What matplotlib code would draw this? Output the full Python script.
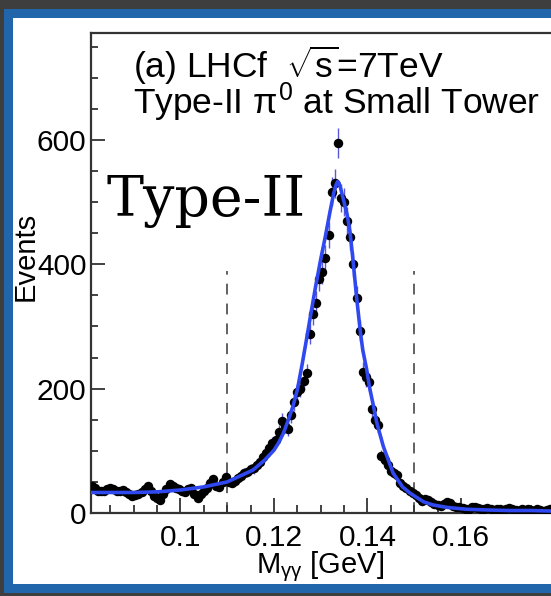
import matplotlib
matplotlib.use("Agg")
import matplotlib.pyplot as plt
from matplotlib.patches import Rectangle
import numpy as np

# --- data -----------------------------------------------------------------
# histogram: 150 bins of M_gg between 0.08 and 0.18 GeV
bin_lo, bin_hi, n_bins = 0.08, 0.18, 150
counts = [
    40, 44, 40, 36, 35, 36, 38, 40, 38, 35,
    36, 37, 33, 30, 28, 29, 30, 33, 38, 44,
    36, 28, 24, 21, 30, 38, 46, 44, 40, 38,
    36, 34, 38, 40, 30, 24, 30, 36, 40, 48,
    54, 44, 42, 50, 58, 50, 48, 52, 56, 60,
    64, 66, 70, 72, 78, 82, 90, 96, 104, 112,
    118, 130, 148, 140, 135, 158, 178, 194, 200, 212,
    225, 288, 320, 338, 376, 388, 410, 447, 517, 530,
    595, 506, 500, 470, 444, 400, 346, 293, 227, 218,
    210, 168, 150, 141, 92, 85, 77, 68, 64, 61,
    48, 43, 41, 36, 32, 29, 24, 20, 22, 21,
    18, 14, 13, 12, 15, 17, 16, 12, 10, 9,
    8, 7, 6, 9, 10, 8, 7, 6, 8, 7,
    5, 6, 7, 5, 6, 8, 6, 5, 4, 6,
    5, 7, 5, 4, 6, 5, 4, 5, 6, 4,
]

# fitted curve
fit_x = [0.0805, 0.085, 0.090, 0.095, 0.100, 0.105, 0.110, 0.1155, 0.118,
         0.120, 0.121, 0.122, 0.123, 0.124, 0.125, 0.126, 0.127, 0.128,
         0.129, 0.130, 0.131, 0.132, 0.1328, 0.1333, 0.1336, 0.1339,
         0.1342, 0.135, 0.1357, 0.1363, 0.137, 0.1377, 0.1385, 0.139,
         0.1398, 0.1405, 0.1412, 0.142, 0.1434, 0.1455, 0.1475, 0.1491,
         0.152, 0.154, 0.157, 0.1612, 0.165, 0.170, 0.175, 0.180, 0.190]
fit_y = [33, 33, 33, 34, 37, 42, 50, 69, 85,
         101, 113, 128, 148, 170, 198, 238, 281, 325,
         368, 408, 445, 485, 515, 528, 533, 531,
         524, 500, 478, 450, 400, 345, 290, 262,
         232, 200, 175, 145, 107, 64, 42, 32,
         18, 13, 9, 6, 5, 4, 4, 3, 3]

signal_window = [0.11, 0.15]

# --- figure ---------------------------------------------------------------
W, H = 551, 596
fig = plt.figure(figsize=(W / 100, H / 100), dpi=100)
fig.patch.set_facecolor("#3e3e3e")


def px_rect(x0, y0, x1, y1, color):
    # rectangle given in image pixels (origin top-left)
    fig.add_artist(Rectangle((x0 / W, 1 - y1 / H), (x1 - x0) / W, (y1 - y0) / H,
                             transform=fig.transFigure, facecolor=color,
                             edgecolor="none", zorder=-10))


px_rect(4, 9, W + 5, 593, "#2166ab")
px_rect(13, 18, W + 5, 584, "white")

plt.rcParams["font.family"] = ["Liberation Sans", "DejaVu Sans"]
plt.rcParams["mathtext.fontset"] = "custom"
plt.rcParams["mathtext.rm"] = "Liberation Sans"
plt.rcParams["mathtext.it"] = "Liberation Sans"

ax_l, ax_b, ax_t = 90.7, 513, 33
x0, x1 = 0.0808, 0.19
px_per_x = 4675.0
ax_r = ax_l + (x1 - x0) * px_per_x
ax = fig.add_axes([ax_l / W, 1 - ax_b / H, (ax_r - ax_l) / W, (ax_b - ax_t) / H])
ax.set_facecolor("none")

edges = np.linspace(bin_lo, bin_hi, n_bins + 1)
centers = 0.5 * (edges[:-1] + edges[1:])
counts = np.array(counts, dtype=float)

ax.errorbar(centers, counts, yerr=np.sqrt(counts), fmt="none",
            ecolor="#5858d8", elinewidth=1.0, zorder=2)
ax.plot(centers, counts, "o", color="black", markersize=5.8, zorder=3)
ax.plot(fit_x, fit_y, color="#2f48f0", linewidth=2.6, zorder=4)

for xv in signal_window:
    ax.plot([xv, xv], [0, 390], color="#555555", linewidth=1.3,
            dashes=(6, 5), zorder=1)

ax.set_xlim(x0, x1)
ax.set_ylim(0, 772)
ax.set_xticks([0.1, 0.12, 0.14, 0.16])
ax.set_xticklabels(["0.1", "0.12", "0.14", "0.16"])
ax.set_xticks(np.arange(0.085, 0.19, 0.005), minor=True)
ax.set_yticks([0, 200, 400, 600])
ax.set_yticks(np.arange(0, 772, 50), minor=True)

ax.tick_params(which="both", direction="in", width=1.3, colors="#333333",
               labelcolor="black", labelsize=21.5)
ax.tick_params(axis="x", which="major", length=11, pad=8)
ax.tick_params(axis="x", which="minor", length=5.5)
ax.tick_params(axis="y", which="major", length=10, pad=3)
ax.tick_params(axis="y", which="minor", length=5)
for s in ax.spines.values():
    s.set_linewidth(1.6)
    s.set_color("#333333")

# --- texts ----------------------------------------------------------------
fig.text(133 / W, 1 - 44 / H,
         "(a) LHCf  $\\sqrt{\\mathrm{s}}$=7TeV\nType-II $\\pi^{0}$ at Small Tower",
         fontsize=25.5, va="top", ha="left", linespacing=0.8)
fig.text(107 / W, 1 - 216 / H, "Type-II", family="DejaVu Serif",
         fontsize=40, va="baseline", ha="left")
fig.text(26 / W, 1 - 256 / H, "Events", fontsize=21, rotation=90,
         va="center", ha="center")
fig.text(320 / W, 1 - 567 / H, r"M$_{\gamma\gamma}$ [GeV]", fontsize=21,
         va="center", ha="center")

fig.savefig("out.png", dpi=100, facecolor=fig.get_facecolor())
